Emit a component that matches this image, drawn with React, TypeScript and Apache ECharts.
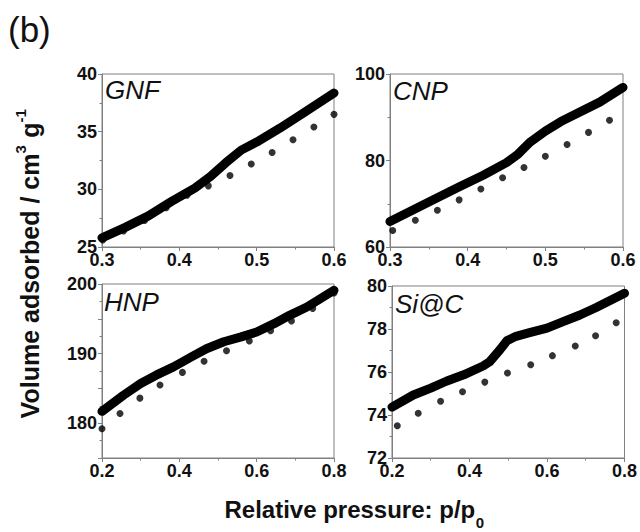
import React, { useEffect, useRef } from 'react';
import * as echarts from 'echarts';

const FONT = '"Liberation Sans", Arial, Helvetica, sans-serif';

// ---- data ----
const panelNames = ['GNF', 'CNP', 'HNP', 'Si@C'];

const gnfXTicks = [0.3, 0.4, 0.5, 0.6];
const gnfYTicks = [25, 30, 35, 40];
const cnpXTicks = [0.3, 0.4, 0.5, 0.6];
const cnpYTicks = [60, 80, 100];
const hnpXTicks = [0.2, 0.4, 0.6, 0.8];
const hnpYRange = [175, 200];
const hnpYLabels = [180, 190, 200];
const sicXTicks = [0.2, 0.4, 0.6, 0.8];
const sicYTicks = [72, 74, 76, 78, 80];

const gnfLine = [
  [0.30, 25.8], [0.33, 26.7], [0.36, 27.7], [0.39, 28.95], [0.42, 30.1], [0.44, 31.1],
  [0.46, 32.3], [0.48, 33.4], [0.50, 34.1], [0.53, 35.3], [0.56, 36.6], [0.60, 38.35],
];
const gnfDots = [
  [0.301, 25.6], [0.328, 26.4], [0.355, 27.3], [0.383, 28.4], [0.410, 29.5],
  [0.4375, 30.3], [0.4655, 31.2], [0.493, 32.2], [0.520, 33.2], [0.547, 34.3],
  [0.574, 35.4], [0.600, 36.5],
];

const cnpLine = [
  [0.30, 65.9], [0.35, 70.4], [0.39, 74.0], [0.42, 76.6], [0.45, 79.5], [0.465, 81.5],
  [0.48, 84.2], [0.50, 86.8], [0.52, 89.0], [0.57, 93.5], [0.60, 96.9],
];
const cnpDots = [
  [0.3035, 63.8], [0.3326, 66.2], [0.361, 68.5], [0.389, 70.9], [0.417, 73.4],
  [0.445, 76.0], [0.4725, 78.4], [0.500, 81.0], [0.528, 83.7], [0.5556, 86.5],
  [0.5826, 89.3],
];

const hnpLine = [
  [0.20, 181.7], [0.255, 184.0], [0.30, 185.7], [0.34, 186.9], [0.385, 188.1],
  [0.43, 189.5], [0.47, 190.7], [0.515, 191.7], [0.56, 192.4], [0.60, 193.1],
  [0.645, 194.3], [0.685, 195.5], [0.73, 196.7], [0.80, 199.1],
];
const hnpDots = [
  [0.20, 179.2], [0.2465, 181.4], [0.298, 183.6], [0.350, 185.5], [0.408, 187.3],
  [0.464, 188.9], [0.522, 190.4], [0.581, 191.8], [0.636, 193.3], [0.690, 194.7],
  [0.745, 196.5], [0.80, 198.7],
];

const sicLine = [
  [0.20, 74.37], [0.255, 74.93], [0.30, 75.25], [0.34, 75.57], [0.385, 75.87],
  [0.435, 76.28], [0.452, 76.48], [0.478, 77.02], [0.497, 77.46], [0.52, 77.66],
  [0.555, 77.83], [0.60, 78.04], [0.64, 78.33], [0.685, 78.65], [0.727, 79.0], [0.80, 79.66],
];
const sicDots = [
  [0.2137, 73.50], [0.2677, 74.08], [0.3254, 74.64], [0.382, 75.08], [0.4395, 75.53],
  [0.498, 75.95], [0.558, 76.34], [0.614, 76.76], [0.673, 77.21], [0.7254, 77.69],
  [0.7786, 78.29],
];

const yTitleParts = ['Volume adsorbed / cm', '3', ' g', '-1'];
const xTitleParts = ['Relative pressure: p/p', '0'];
const figureLabel = '(b)';

function textWidth(text: string, font: string): number {
  const ctx = document.createElement('canvas').getContext('2d');
  if (!ctx) return text.length * 10;
  ctx.font = font;
  return ctx.measureText(text).width;
}

const AXIS_GREY = '#808080';

function makeXAxis(i: number, ticks: number[]) {
  return {
    type: 'value',
    gridIndex: i,
    min: ticks[0],
    max: ticks[ticks.length - 1],
    interval: Math.round((ticks[1] - ticks[0]) * 1000) / 1000,
    axisLine: { show: true, lineStyle: { color: AXIS_GREY, width: 1 } },
    axisTick: { show: true, length: 4, lineStyle: { color: AXIS_GREY } },
    minorTick: { show: true, splitNumber: 2, length: 2.5, lineStyle: { color: AXIS_GREY } },
    splitLine: { show: false },
    axisLabel: {
      margin: 7,
      lineHeight: 12,
      color: '#111',
      fontSize: 18,
      fontWeight: 'bold',
      fontFamily: FONT,
      formatter: (v: number) => v.toFixed(1),
    },
  };
}

function makeYAxis(i: number, min: number, max: number, interval: number, labels: number[] | null) {
  return {
    type: 'value',
    gridIndex: i,
    min,
    max,
    interval,
    axisLine: { show: true, lineStyle: { color: AXIS_GREY, width: 1 } },
    axisTick: { show: true, length: 4, lineStyle: { color: AXIS_GREY } },
    minorTick: { show: true, splitNumber: 2, length: 2.5, lineStyle: { color: AXIS_GREY } },
    splitLine: { show: false },
    axisLabel: {
      margin: 5,
      lineHeight: 12,
      color: '#111',
      fontSize: 18,
      fontWeight: 'bold',
      fontFamily: FONT,
      formatter: (v: number) => {
        if (labels && !labels.some((l) => Math.abs(l - v) < 1e-6)) return '';
        return String(Math.round(v));
      },
    },
  };
}

export default function App() {
  const ref = useRef<HTMLDivElement>(null);

  useEffect(() => {
    if (!ref.current) return;
    const chart = echarts.init(ref.current, null, { renderer: 'svg' });

    const grids = [
      { left: 102, top: 74, width: 232, height: 173 },
      { left: 390, top: 74, width: 233, height: 173 },
      { left: 102, top: 284, width: 232, height: 174 },
      { left: 392, top: 286, width: 233, height: 172 },
    ].map((g) => ({ ...g, show: true, borderColor: AXIS_GREY, borderWidth: 1, backgroundColor: 'transparent' }));

    const xAxes = [
      makeXAxis(0, gnfXTicks),
      makeXAxis(1, cnpXTicks),
      makeXAxis(2, hnpXTicks),
      makeXAxis(3, sicXTicks),
    ];
    const yAxes = [
      makeYAxis(0, gnfYTicks[0], gnfYTicks[gnfYTicks.length - 1], gnfYTicks[1] - gnfYTicks[0], null),
      makeYAxis(1, cnpYTicks[0], cnpYTicks[cnpYTicks.length - 1], cnpYTicks[1] - cnpYTicks[0], null),
      makeYAxis(2, hnpYRange[0], hnpYRange[1], 5, hnpYLabels),
      makeYAxis(3, sicYTicks[0], sicYTicks[sicYTicks.length - 1], sicYTicks[1] - sicYTicks[0], null),
    ];

    const lines = [gnfLine, cnpLine, hnpLine, sicLine];
    const dots = [gnfDots, cnpDots, hnpDots, sicDots];
    const series: any[] = [];
    for (let i = 0; i < 4; i++) {
      series.push({
        type: 'scatter',
        xAxisIndex: i,
        yAxisIndex: i,
        data: dots[i],
        symbol: 'circle',
        symbolSize: 7,
        itemStyle: { color: '#000' },
        z: 2,
      });
      series.push({
        type: 'line',
        xAxisIndex: i,
        yAxisIndex: i,
        data: lines[i],
        showSymbol: false,
        symbol: 'none',
        smooth: false,
        lineStyle: { color: '#000', width: 9, cap: 'round', join: 'round' },
        z: 3,
      });
    }

    // panel labels
    const labelPos = [
      [105, 90],
      [393, 91],
      [104, 302],
      [395, 304],
    ];
    const graphics: any[] = panelNames.map((name, i) => ({
      type: 'text',
      x: labelPos[i][0],
      y: labelPos[i][1],
      z: 10,
      style: {
        text: name,
        fontSize: 26,
        fontStyle: 'italic',
        fontWeight: 'normal',
        fontFamily: FONT,
        fill: '#111',
        align: 'left',
        verticalAlign: 'middle',
        textAlign: 'left',
        textVerticalAlign: 'middle',
      },
    }));

    // figure label
    graphics.push({
      type: 'text',
      x: 8,
      y: 29,
      style: {
        text: figureLabel,
        fontSize: 35,
        fontFamily: FONT,
        fill: '#111',
        align: 'left',
        verticalAlign: 'middle',
        textAlign: 'left',
        textVerticalAlign: 'middle',
      },
    });

    // x title
    const xMainFont = `bold 24px ${FONT}`;
    const xSubFont = `bold 15px ${FONT}`;
    const xw1 = textWidth(xTitleParts[0], xMainFont);
    const xw2 = textWidth(xTitleParts[1], xSubFont);
    const x0 = 354 - (xw1 + xw2) / 2;
    graphics.push({
      type: 'text',
      x: x0,
      y: 509,
      style: {
        text: xTitleParts[0],
        fontSize: 24,
        fontWeight: 'bold',
        fontFamily: FONT,
        fill: '#111',
        align: 'left',
        verticalAlign: 'middle',
        textAlign: 'left',
        textVerticalAlign: 'middle',
      },
    });
    graphics.push({
      type: 'text',
      x: x0 + xw1 + 0.5,
      y: 522,
      style: {
        text: xTitleParts[1],
        fontSize: 15,
        fontWeight: 'bold',
        fontFamily: FONT,
        fill: '#111',
        align: 'left',
        verticalAlign: 'middle',
        textAlign: 'left',
        textVerticalAlign: 'middle',
      },
    });

    // y title (rotated group)
    const yMainSize = 25;
    const ySupSize = 15;
    const isSup = [false, true, false, true];
    const widths = yTitleParts.map((t, i) =>
      textWidth(t, `bold ${isSup[i] ? ySupSize : yMainSize}px ${FONT}`)
    );
    const total = widths.reduce((a, b) => a + b, 0);
    let cx = -total / 2;
    const children: any[] = [];
    yTitleParts.forEach((t, i) => {
      children.push({
        type: 'text',
        x: cx,
        y: isSup[i] ? -10 : 0,
        style: {
          text: t,
          fontSize: isSup[i] ? ySupSize : yMainSize,
          fontWeight: 'bold',
          fontFamily: FONT,
          fill: '#111',
          align: 'left',
          verticalAlign: 'middle',
          textAlign: 'left',
          textVerticalAlign: 'middle',
        },
      });
      cx += widths[i] + (isSup[i] ? 0.5 : 0);
    });
    graphics.push({
      type: 'group',
      x: 30,
      y: 264,
      rotation: Math.PI / 2,
      children,
    });

    chart.setOption({
      animation: false,
      backgroundColor: '#fff',
      grid: grids,
      xAxis: xAxes,
      yAxis: yAxes,
      series,
      graphic: { elements: graphics },
    });

    return () => {
      chart.dispose();
    };
  }, []);

  return (
    <div
      ref={ref}
      style={{ position: 'fixed', left: 0, top: 0, width: 640, height: 532, background: '#fff' }}
    />
  );
}
